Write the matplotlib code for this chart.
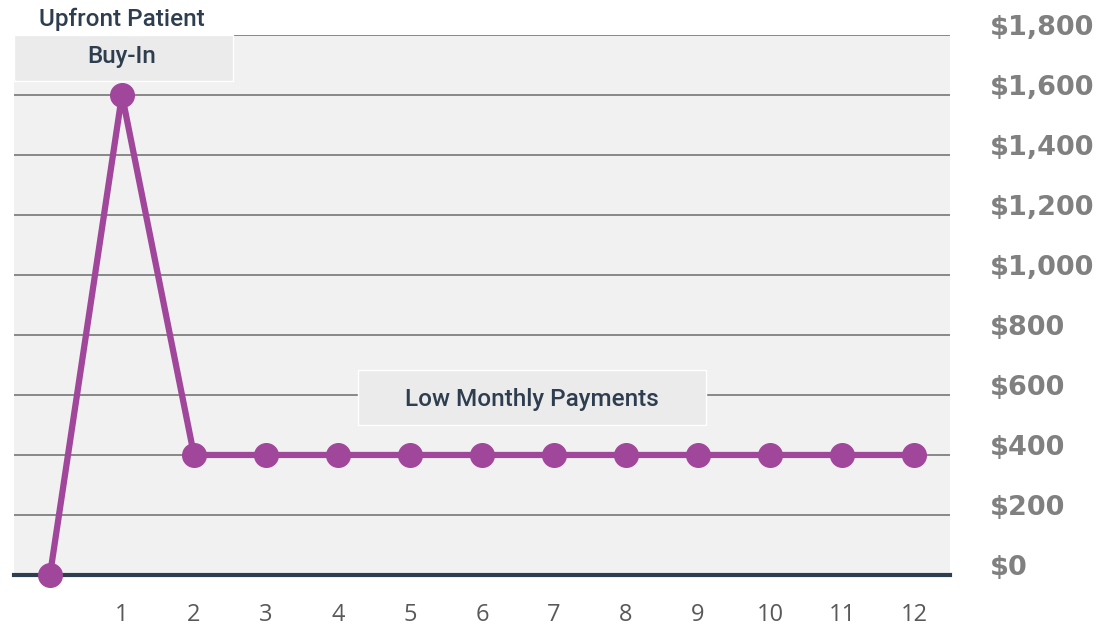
import matplotlib.pyplot as plt
from matplotlib.patches import Rectangle

months = list(range(13))
payments = [0, 1600, 400, 400, 400, 400, 400, 400, 400, 400, 400, 400, 400]
tick_pos = list(range(1, 13))
tick_labels = [str(m) for m in tick_pos]
y_ticks = [0, 200, 400, 600, 800, 1000, 1200, 1400, 1600, 1800]
y_labels = ['$0', '$200', '$400', '$600', '$800', '$1,000', '$1,200', '$1,400', '$1,600', '$1,800']

fig = plt.figure(figsize=(11.01, 6.29), dpi=100)
ax = fig.add_axes([0.0127, 0.0859, 0.8501, 0.8585])
ax.set_facecolor('#f1f1f1')

ax.set_xlim(-0.5, 12.5)
ax.set_ylim(0, 1800)
ax.set_yticks(y_ticks)
ax.set_yticklabels(y_labels, fontsize=19.5, fontweight='bold', color='#808080', family='DejaVu Sans',
                   va='baseline')
ax.yaxis.tick_right()
ax.tick_params(axis='y', length=0, pad=29)
ax.set_xticks(tick_pos)
ax.set_xticklabels(tick_labels, fontsize=17, color='#595959', family='Open Sans')
ax.tick_params(axis='x', length=0, pad=20)

ax.grid(axis='y', color='#7f7f7f', lw=1.3)
ax.set_axisbelow(True)
for s in ['top', 'left', 'right']:
    ax.spines[s].set_visible(False)
ax.spines['bottom'].set_color('#2c3e50')
ax.spines['bottom'].set_linewidth(3)
ax.spines['bottom'].set_zorder(2)

ax.plot(months, payments, color='#a0479b', lw=4.5, marker='o', markersize=17, zorder=3, clip_on=False)

# label boxes
ax.add_patch(Rectangle((-0.5, 1645), 3.04, 155, facecolor='#ebebeb', edgecolor='white', lw=1, zorder=2.5))
ax.text(1, 1852, 'Upfront Patient', ha='center', va='center', fontsize=17.5, color='#2e3e50',
        family='Roboto', fontweight='medium', clip_on=False)
ax.text(1, 1728, 'Buy-In', ha='center', va='center', fontsize=17.5, color='#2e3e50',
        family='Roboto', fontweight='medium')

ax.add_patch(Rectangle((4.28, 500), 4.83, 183, facecolor='#ebebeb', edgecolor='white', lw=1, zorder=2.5))
ax.text(6.69, 585, 'Low Monthly Payments', ha='center', va='center', fontsize=17.5, color='#2e3e50',
        family='Roboto', fontweight='medium', zorder=3)

fig.savefig('out.png', dpi=100)
